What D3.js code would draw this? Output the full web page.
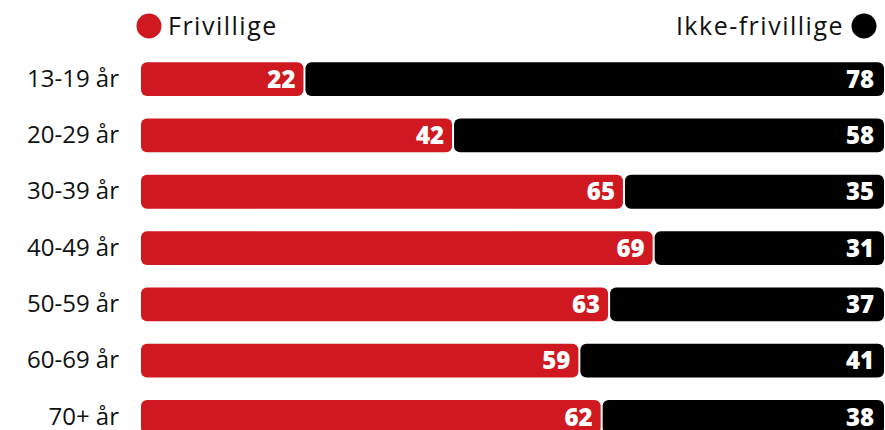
<!DOCTYPE html>
<html>
<head>
<meta charset="utf-8">
<script src="https://cdn.jsdelivr.net/npm/d3@7"></script>
<style>
  body { margin: 0; background: #fff; }
  svg { display: block; font-family: 'Open Sans', sans-serif; }
</style>
</head>
<body>
<div class="outer-container"></div>
<script>
const categories = ['13-19 år', '20-29 år', '30-39 år', '40-49 år', '50-59 år', '60-69 år', '70+ år']
const frivillige = [22, 42, 65, 69, 63, 59, 62]
const ikkeFrivillige = [78, 58, 35, 31, 37, 41, 38]
const seriesNames = ['Frivillige', 'Ikke-frivillige']
const seriesColors = ['#cf1820', '#000000']

const w = 885
const h = 430
const padding = { left: 141, right: 1, top: 62 }

const rows = categories.map((c, i) => ({ cat: c, a: frivillige[i], b: ikkeFrivillige[i] }))

const xScale = d3.scaleLinear()
  .domain([0, 100])
  .range([padding.left, w - padding.right])

const yScale = d3.scaleBand()
  .domain(categories)
  .range([padding.top - 11, padding.top - 11 + 56.3 * categories.length])
  .paddingInner(0.4)
  .paddingOuter(0.2)

const svg = d3.select('.outer-container')
  .append('svg')
  .attr('width', w)
  .attr('height', h)

const yAxis = d3.axisLeft(yScale).tickSize(0).tickPadding(22)
svg.append('g')
  .attr('transform', 'translate(' + padding.left + ',0)')
  .call(yAxis)
  .call(g => g.select('.domain').remove())
  .selectAll('text')
    .attr('font-size', 24)
    .attr('font-family', 'Open Sans, sans-serif')
    .attr('fill', '#111')

const rowG = svg.selectAll('g.row')
  .data(rows)
  .enter()
  .append('g')
  .attr('class', 'row')
  .attr('transform', d => 'translate(0,' + yScale(d.cat) + ')')

const bh = yScale.bandwidth()

// red segment
rowG.append('rect')
  .attr('x', xScale(0))
  .attr('width', d => xScale(d.a) - xScale(0) - 1)
  .attr('height', bh)
  .attr('rx', 6)
  .attr('fill', seriesColors[0])

// black segment
rowG.append('rect')
  .attr('x', d => xScale(d.a) + 1)
  .attr('width', d => xScale(100) - xScale(d.a) - 1)
  .attr('height', bh)
  .attr('rx', 6)
  .attr('fill', seriesColors[1])

rowG.append('text')
  .attr('x', d => xScale(d.a) - 9)
  .attr('y', bh / 2)
  .attr('dy', '0.36em')
  .attr('text-anchor', 'end')
  .attr('fill', '#fff')
  .attr('font-weight', 800)
  .attr('font-size', 24)
  .text(d => d.a)

rowG.append('text')
  .attr('x', xScale(100) - 10)
  .attr('y', bh / 2)
  .attr('dy', '0.36em')
  .attr('text-anchor', 'end')
  .attr('fill', '#fff')
  .attr('font-weight', 800)
  .attr('font-size', 24)
  .text(d => d.b)

// legend
const legend = svg.append('g').attr('class', 'legend')
legend.append('circle')
  .attr('cx', 149).attr('cy', 26).attr('r', 12.5)
  .attr('fill', seriesColors[0])
legend.append('text')
  .attr('x', 168).attr('y', 26).attr('dy', '0.36em')
  .attr('font-size', 25).attr('letter-spacing', 1.5).attr('fill', '#111')
  .text(seriesNames[0])
legend.append('circle')
  .attr('cx', 864).attr('cy', 26).attr('r', 12.5)
  .attr('fill', seriesColors[1])
legend.append('text')
  .attr('x', 844).attr('y', 26).attr('dy', '0.36em')
  .attr('text-anchor', 'end')
  .attr('font-size', 25).attr('letter-spacing', 1.5).attr('fill', '#111')
  .text(seriesNames[1])
</script>
</body>
</html>
